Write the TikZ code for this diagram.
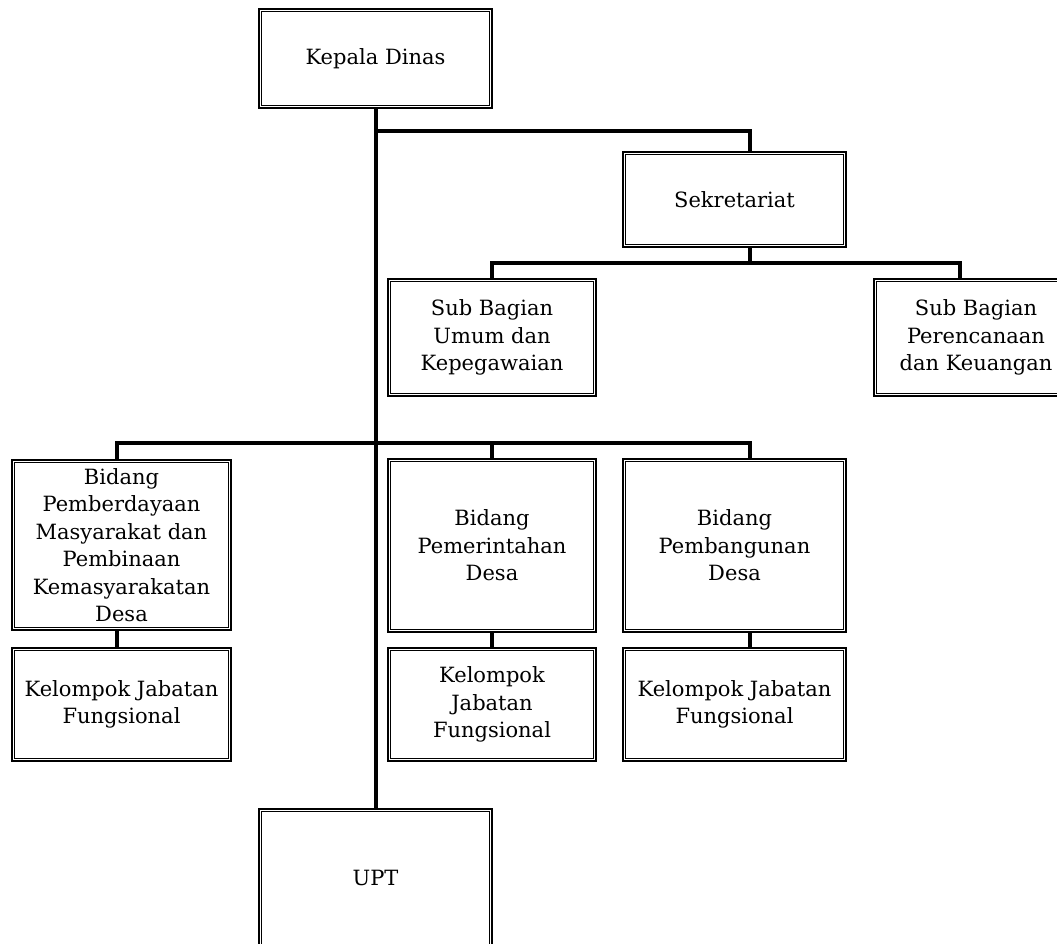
\documentclass[tikz,border=0pt]{standalone}
\usepackage{fontspec}
\setmainfont{DejaVu Serif}
\begin{document}
\begin{tikzpicture}[x=1pt,y=-1pt,
  orgbox/.style={draw,line width=2.2pt,inner sep=0pt,align=center,
    font=\fontsize{21}{27.5}\selectfont},
  conn/.style={line width=4pt}]
\useasboundingbox (0,0) rectangle (1057,943);
\clip (0,0) rectangle (1057,943);

% units (outer double frame drawn below)
\node[orgbox,minimum width=233pt,minimum height=99pt]  (kd)  at (375.5,58.5)  {Kepala Dinas};
\node[orgbox,minimum width=223pt,minimum height=95pt]  (sek) at (734.5,199.5) {Sekretariat};
\node[orgbox,minimum width=208pt,minimum height=117pt] (sbu) at (492,337.5)   {Sub Bagian\\Umum dan\\Kepegawaian};
\node[orgbox,minimum width=204pt,minimum height=117pt] (sbp) at (976,337.5)   {Sub Bagian\\Perencanaan\\dan Keuangan};
\node[orgbox,minimum width=219pt,minimum height=170pt] (b1)  at (121.5,545)   {Bidang\\Pemberdayaan\\Masyarakat dan\\Pembinaan\\Kemasyarakatan\\Desa};
\node[orgbox,minimum width=219pt,minimum height=113pt] (k1)  at (121.5,704.5) {Kelompok Jabatan\\Fungsional};
\node[orgbox,minimum width=208pt,minimum height=173pt] (b2)  at (492,545.5)   {Bidang\\Pemerintahan\\Desa};
\node[orgbox,minimum width=208pt,minimum height=113pt] (k2)  at (492,704.5)   {Kelompok\\Jabatan\\Fungsional};
\node[orgbox,minimum width=223pt,minimum height=173pt] (b3)  at (734.5,545.5) {Bidang\\Pembangunan\\Desa};
\node[orgbox,minimum width=223pt,minimum height=113pt] (k3)  at (734.5,704.5) {Kelompok Jabatan\\Fungsional};
\node[orgbox,minimum width=233pt,minimum height=138pt] (upt) at (375.5,878)   {UPT};

% inner thin line of each double frame
\foreach \n in {kd,sek,sbu,sbp,b1,k1,b2,k2,b3,k3,upt}
  \draw[line width=1pt] ([shift={(3.2pt,-3.2pt)}]\n.north west) rectangle ([shift={(-3.2pt,3.2pt)}]\n.south east);

% junctions on the connectors
\coordinate (t1) at (375.5,131);
\coordinate (t2) at (375.5,443);
\coordinate (sx) at (750,263);

% connectors
\draw[conn] (kd.south) -- (upt.north);
\draw[conn] (t1) -| ([xshift=15.5pt]sek.north);
\draw[conn] ([xshift=15.5pt]sek.south) -- (sx);
\draw[conn] (sbu.north) |- (sx) -| ([xshift=-16pt]sbp.north);
\draw[conn] ([xshift=-5pt]b1.north) |- (t2) -| ([xshift=15.5pt]b3.north);
\draw[conn] (b2.north) -- (b2.north |- t2);
\draw[conn] ([xshift=-5pt]b1.south) -- ([xshift=-5pt]k1.north);
\draw[conn] (b2.south) -- (k2.north);
\draw[conn] ([xshift=15.5pt]b3.south) -- ([xshift=15.5pt]k3.north);
\end{tikzpicture}
\end{document}
